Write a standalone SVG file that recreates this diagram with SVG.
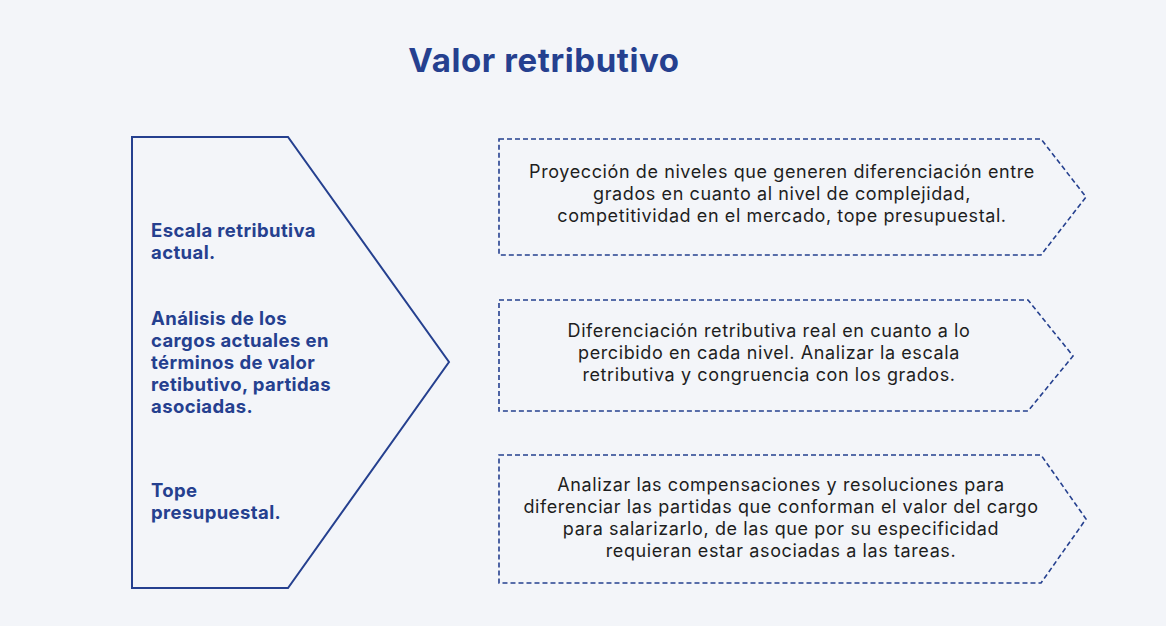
<svg xmlns="http://www.w3.org/2000/svg" width="1166" height="626" viewBox="0 0 1166 626">
<style>
.s{fill:none;stroke:#25408f;stroke-width:2}
.d{fill:none;stroke:#25408f;stroke-width:1.6;stroke-dasharray:5 3}
.l{font-family:Inter,"Liberation Sans",sans-serif;font-weight:700;font-size:18.5px;letter-spacing:0.4px;fill:#25408f}
.t{font-family:Inter,"Liberation Sans",sans-serif;font-size:18px;letter-spacing:0.6px;fill:#1e1e1e;text-anchor:middle}
</style>
<rect width="1166" height="626" fill="#f3f5f9"/>
<text x="544" y="72" font-family="Inter,'Liberation Sans',sans-serif" font-weight="700" font-size="33" letter-spacing="0.6" fill="#25408f" text-anchor="middle">Valor retributivo</text>
<g id="left">
<polygon class="s" points="132,137 288,137 449,362 288,588 132,588"/>
<text class="l" x="151" y="237">Escala retributiva</text>
<text class="l" x="151" y="259">actual.</text>
<text class="l" x="151" y="325">Análisis de los</text>
<text class="l" x="151" y="347">cargos actuales en</text>
<text class="l" x="151" y="369">términos de valor</text>
<text class="l" x="151" y="391">retibutivo, partidas</text>
<text class="l" x="151" y="413">asociadas.</text>
<text class="l" x="151" y="497">Tope</text>
<text class="l" x="151" y="519">presupuestal.</text>
</g>
<g id="box1">
<polygon class="d" points="499,139 1041,139 1086,197 1041,255 499,255"/>
<text class="t" x="782" y="178">Proyección de niveles que generen diferenciación entre</text>
<text class="t" x="782" y="200">grados en cuanto al nivel de complejidad,</text>
<text class="t" x="782" y="222">competitividad en el mercado, tope presupuestal.</text>
</g>
<g id="box2">
<polygon class="d" points="499,300 1028,300 1073,356 1028,411 499,411"/>
<text class="t" x="769" y="337">Diferenciación retributiva real en cuanto a lo</text>
<text class="t" x="769" y="359">percibido en cada nivel. Analizar la escala</text>
<text class="t" x="769" y="381">retributiva y congruencia con los grados.</text>
</g>
<g id="box3">
<polygon class="d" points="499,455 1041,455 1086,519 1041,583 499,583"/>
<text class="t" x="781" y="491">Analizar las compensaciones y resoluciones para</text>
<text class="t" x="781" y="513">diferenciar las partidas que conforman el valor del cargo</text>
<text class="t" x="781" y="535">para salarizarlo, de las que por su especificidad</text>
<text class="t" x="781" y="557">requieran estar asociadas a las tareas.</text>
</g>
<g id="connectors"/>
</svg>
